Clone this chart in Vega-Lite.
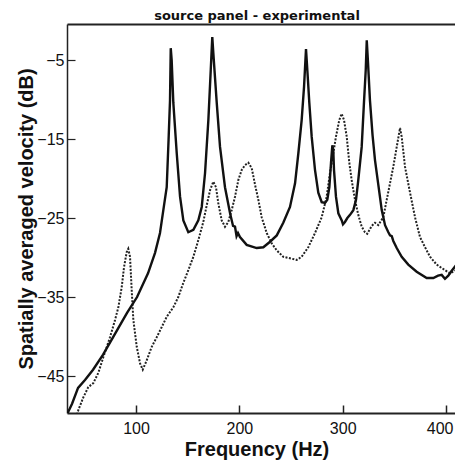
{
  "$schema": "https://vega.github.io/schema/vega-lite/v6.json",
  "autosize": {"type": "none"},
  "width": 388,
  "height": 389,
  "padding": {"left": 67, "top": 24, "right": 0, "bottom": 47},
  "background": "white",
  "config": {"view": {"stroke": null}},
  "title": {"text": "source panel - experimental", "font": "DejaVu Sans", "fontSize": 13, "fontWeight": "bold", "color": "#111", "anchor": "middle", "dx": -4, "offset": 1},
  "datasets": {
    "solid": [
      {"f": 33, "v": -50}, {"f": 34.2, "v": -49.6}, {"f": 38.1, "v": -48.5}, {"f": 43.9, "v": -46.5}, {"f": 50.6, "v": -45.5}, {"f": 58.4, "v": -44.2}, {"f": 68.1, "v": -42.3}, {"f": 77.7, "v": -40.1}, {"f": 91.3, "v": -37.0}, {"f": 101.0, "v": -35.0}, {"f": 111.6, "v": -32.0}, {"f": 118.4, "v": -29.4}, {"f": 123.2, "v": -26.9}, {"f": 127.1, "v": -23.4}, {"f": 129.7, "v": -21.1}, {"f": 131.5, "v": -15.1}, {"f": 132.9, "v": -10.1}, {"f": 133.6, "v": -3.5}, {"f": 134.5, "v": -5.0}, {"f": 136.1, "v": -10.4}, {"f": 139.4, "v": -16.8}, {"f": 142.6, "v": -22.3}, {"f": 145.8, "v": -25.3}, {"f": 150.6, "v": -26.8}, {"f": 155.5, "v": -26.5}, {"f": 160.3, "v": -25.3}, {"f": 163.6, "v": -23.6}, {"f": 166.8, "v": -19.3}, {"f": 170.0, "v": -12.6}, {"f": 172.3, "v": -6.3}, {"f": 173.8, "v": -2.1}, {"f": 174.8, "v": -4.1}, {"f": 178.1, "v": -10.4}, {"f": 181.3, "v": -16.0}, {"f": 186.1, "v": -21.1}, {"f": 191.0, "v": -24.4}, {"f": 193.9, "v": -26.0}, {"f": 195.8, "v": -26.1}, {"f": 197.3, "v": -27.3}, {"f": 198.7, "v": -26.9}, {"f": 200.6, "v": -27.4}, {"f": 207.1, "v": -28.4}, {"f": 216.8, "v": -28.8}, {"f": 223.2, "v": -28.7}, {"f": 229.7, "v": -28.0}, {"f": 236.2, "v": -27.2}, {"f": 242.5, "v": -25.6}, {"f": 249.0, "v": -23.6}, {"f": 253.9, "v": -20.6}, {"f": 257.1, "v": -16.8}, {"f": 260.3, "v": -12.6}, {"f": 262.6, "v": -8.4}, {"f": 264.5, "v": -3.6}, {"f": 265.8, "v": -6.3}, {"f": 267.7, "v": -10.4}, {"f": 270.0, "v": -14.7}, {"f": 273.2, "v": -18.9}, {"f": 276.4, "v": -21.8}, {"f": 279.7, "v": -23.0}, {"f": 282.9, "v": -23.1}, {"f": 285.1, "v": -22.7}, {"f": 287.1, "v": -21.1}, {"f": 288.7, "v": -18.0}, {"f": 290.0, "v": -15.8}, {"f": 290.9, "v": -16.4}, {"f": 291.6, "v": -18.9}, {"f": 293.5, "v": -22.3}, {"f": 295.8, "v": -24.4}, {"f": 299.1, "v": -25.3}, {"f": 300.3, "v": -25.8}, {"f": 302.2, "v": -25.5}, {"f": 304.5, "v": -25.0}, {"f": 307.1, "v": -24.6}, {"f": 310.3, "v": -24.0}, {"f": 312.9, "v": -22.7}, {"f": 315.1, "v": -20.2}, {"f": 318.4, "v": -16.0}, {"f": 320.6, "v": -10.4}, {"f": 322.3, "v": -6.3}, {"f": 323.3, "v": -2.5}, {"f": 324.5, "v": -5.3}, {"f": 326.4, "v": -10.1}, {"f": 328.9, "v": -14.5}, {"f": 331.3, "v": -17.7}, {"f": 334.5, "v": -20.8}, {"f": 337.8, "v": -24.0}, {"f": 341.0, "v": -25.9}, {"f": 344.2, "v": -26.8}, {"f": 345.8, "v": -27.2}, {"f": 347.5, "v": -27.3}, {"f": 349.0, "v": -27.9}, {"f": 352.3, "v": -28.8}, {"f": 357.1, "v": -29.9}, {"f": 363.5, "v": -30.9}, {"f": 371.6, "v": -31.8}, {"f": 381.3, "v": -32.6}, {"f": 387.7, "v": -32.6}, {"f": 392.3, "v": -32.3}, {"f": 395.8, "v": -32.2}, {"f": 399.0, "v": -32.7}, {"f": 402.2, "v": -32.3}, {"f": 404.8, "v": -31.8}, {"f": 409.5, "v": -31.0}
    ],
    "dotted": [
      {"f": 42.9, "v": -49.9}, {"f": 44.2, "v": -49.3}, {"f": 49.0, "v": -47.7}, {"f": 53.8, "v": -46.4}, {"f": 58.7, "v": -45.9}, {"f": 63.5, "v": -44.6}, {"f": 68.4, "v": -42.6}, {"f": 74.8, "v": -40.1}, {"f": 79.7, "v": -37.9}, {"f": 82.9, "v": -36.3}, {"f": 86.2, "v": -33.7}, {"f": 88.4, "v": -31.2}, {"f": 91.0, "v": -29.3}, {"f": 92.5, "v": -28.9}, {"f": 94.2, "v": -29.9}, {"f": 95.8, "v": -34.1}, {"f": 97.4, "v": -37.9}, {"f": 100.7, "v": -41.3}, {"f": 103.9, "v": -43.4}, {"f": 106.5, "v": -44.2}, {"f": 110.4, "v": -43.0}, {"f": 115.2, "v": -41.3}, {"f": 120.0, "v": -40.1}, {"f": 124.9, "v": -38.8}, {"f": 129.7, "v": -37.5}, {"f": 136.1, "v": -36.3}, {"f": 140.9, "v": -35.0}, {"f": 145.8, "v": -33.2}, {"f": 150.6, "v": -31.6}, {"f": 155.5, "v": -29.9}, {"f": 160.3, "v": -27.8}, {"f": 165.1, "v": -25.5}, {"f": 168.4, "v": -23.4}, {"f": 171.6, "v": -21.5}, {"f": 174.8, "v": -20.4}, {"f": 177.4, "v": -21.1}, {"f": 179.6, "v": -23.1}, {"f": 182.9, "v": -25.3}, {"f": 186.1, "v": -26.1}, {"f": 189.3, "v": -25.5}, {"f": 192.6, "v": -24.0}, {"f": 195.8, "v": -22.3}, {"f": 199.0, "v": -20.2}, {"f": 202.3, "v": -18.9}, {"f": 205.5, "v": -18.3}, {"f": 208.7, "v": -18.0}, {"f": 212.0, "v": -18.7}, {"f": 215.2, "v": -20.8}, {"f": 218.4, "v": -22.7}, {"f": 221.6, "v": -24.9}, {"f": 226.5, "v": -26.9}, {"f": 231.3, "v": -28.2}, {"f": 236.2, "v": -29.1}, {"f": 242.5, "v": -29.9}, {"f": 249.0, "v": -30.1}, {"f": 255.5, "v": -30.3}, {"f": 260.3, "v": -29.9}, {"f": 266.7, "v": -28.7}, {"f": 273.2, "v": -26.9}, {"f": 279.7, "v": -24.9}, {"f": 284.5, "v": -22.3}, {"f": 287.7, "v": -19.3}, {"f": 290.9, "v": -16.8}, {"f": 293.5, "v": -14.7}, {"f": 296.7, "v": -12.6}, {"f": 299.0, "v": -11.8}, {"f": 301.3, "v": -12.6}, {"f": 303.9, "v": -14.7}, {"f": 306.4, "v": -18.0}, {"f": 308.7, "v": -20.2}, {"f": 311.9, "v": -22.7}, {"f": 315.1, "v": -24.6}, {"f": 318.4, "v": -26.1}, {"f": 321.6, "v": -26.8}, {"f": 323.8, "v": -27.0}, {"f": 328.1, "v": -26.0}, {"f": 331.3, "v": -25.6}, {"f": 334.5, "v": -25.9}, {"f": 339.3, "v": -24.9}, {"f": 342.6, "v": -22.7}, {"f": 345.8, "v": -20.6}, {"f": 349.0, "v": -18.5}, {"f": 352.3, "v": -16.0}, {"f": 355.5, "v": -13.6}, {"f": 357.1, "v": -14.7}, {"f": 360.3, "v": -18.5}, {"f": 365.2, "v": -21.8}, {"f": 370.0, "v": -24.9}, {"f": 374.8, "v": -27.4}, {"f": 379.7, "v": -28.7}, {"f": 384.5, "v": -29.9}, {"f": 391.0, "v": -30.9}, {"f": 399.0, "v": -31.6}, {"f": 403.9, "v": -32.0}, {"f": 409.5, "v": -31.6}
    ]
  },
  "resolve": {"axis": {"x": "independent"}},
  "layer": [
    {
      "data": {"name": "dotted"},
      "mark": {"type": "line", "color": "#222", "strokeWidth": 2, "strokeDash": [2, 1.5], "clip": true},
      "encoding": {
        "x": {"field": "f", "type": "quantitative", "scale": {"domain": [33.2, 408.7], "nice": false, "zero": false},
          "axis": {"orient": "bottom", "values": [100, 200, 300, 400], "title": "Frequency (Hz)", "grid": false,
            "domainColor": "#222", "domainWidth": 2, "tickColor": "#222", "tickWidth": 1.5, "tickSize": -8, "labelPadding": 15,
            "labelFont": "Liberation Sans", "labelFontSize": 16, "labelColor": "#111", "labelFlush": false,
            "labelAlign": {"expr": "datum.value >= 400 ? 'right' : 'center'"},
            "labelOffset": {"expr": "datum.value >= 400 ? 7 : 0"},
            "titleFont": "Liberation Sans", "titleFontSize": 20, "titleFontWeight": "bold", "titleColor": "#111", "titlePadding": 3, "titleX": 189.5}},
        "y": {"field": "v", "type": "quantitative", "scale": {"domain": [-49.68, -0.44], "nice": false, "zero": false},
          "axis": {"values": [-5, -15, -25, -35, -45], "title": "Spatially averaged velocity (dB)", "grid": false,
            "domainColor": "#222", "domainWidth": 1.5, "tickColor": "#222", "tickWidth": 1.2, "tickSize": -8, "labelPadding": 11,
            "labelFont": "Liberation Sans", "labelFontSize": 16, "labelColor": "#111", "labelFlush": false,
            "titleFont": "Liberation Sans", "titleFontSize": 20, "titleFontWeight": "bold", "titleColor": "#111", "titlePadding": 0}}
      }
    },
    {
      "data": {"name": "solid"},
      "mark": {"type": "line", "color": "#111", "strokeWidth": 2.4, "clip": true},
      "encoding": {
        "x": {"field": "f", "type": "quantitative",
          "axis": {"orient": "top", "labels": false, "ticks": false, "title": null, "grid": false, "domainColor": "#222", "domainWidth": 2}},
        "y": {"field": "v", "type": "quantitative"}
      }
    }
  ]
}
